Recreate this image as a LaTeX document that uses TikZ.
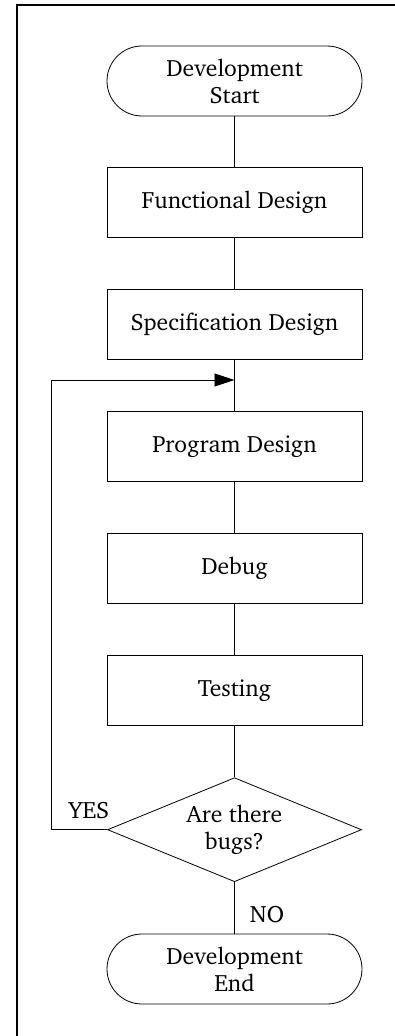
\documentclass[tikz,border=0pt]{standalone}
\usepackage[T1]{fontenc}
\usepackage{charter}
\usetikzlibrary{shapes.geometric,arrows.meta}
\begin{document}
\begin{tikzpicture}[x=1pt,y=-1pt,
  txt/.style={font=\fontsize{23.6}{27}\selectfont, align=center},
  procbox/.style={txt, draw, line width=0.8pt, minimum width=255pt, minimum height=70pt, inner sep=0pt},
  termbox/.style={procbox, rounded corners=35pt},
  decbox/.style={txt, draw, line width=0.8pt, diamond, aspect=2.44, minimum width=254pt, minimum height=104pt, inner sep=0pt},
  conn/.style={line width=0.8pt},
  lbl/.style={font=\fontsize{23.6}{27}\selectfont, inner sep=0pt}
]
\useasboundingbox (0,0) rectangle (395,1036);
\draw[line width=2pt] (17,1040) -- (17,5) -- (400,5);

\node[termbox] (start) at (234.5,81) {Development\\Start};
\node[procbox] (func) at (234.5,202.5) {Functional Design};
\node[procbox] (spec) at (234.5,324) {Specification Design};
\node[procbox] (prog) at (234.5,446.5) {Program Design};
\node[procbox] (debug) at (234.5,568.5) {Debug};
\node[procbox] (test) at (234.5,690.5) {Testing};
\node[decbox] (dec) at (234.5,829.7) {Are there\\bugs?};
\node[termbox] (end) at (234.5,969) {Development\\End};
\coordinate (join) at (234.5,380);
\coordinate (corner) at (51.7,829.7);

\draw[conn] (start) -- (func);
\draw[conn] (func) -- (spec);
\draw[conn] (spec) -- (prog);
\draw[conn] (prog) -- (debug);
\draw[conn] (debug) -- (test);
\draw[conn] (test) -- (dec);
\draw[conn] (dec) -- (end);
\draw[conn, -{Triangle[length=20pt,width=13pt]}] (dec.west) -- (corner) |- (join);

\node[lbl] (yes) at (89,811) {YES};
\node[lbl] (no) at (267,915) {NO};
\end{tikzpicture}
\end{document}
